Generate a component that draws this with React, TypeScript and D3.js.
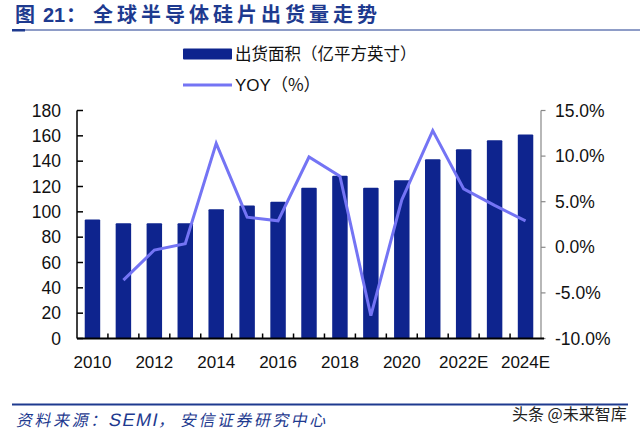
import React from "react";
import * as d3 from "d3";

const categories = ["2010","2011","2012","2013","2014","2015","2016","2017","2018","2019","2020","2021","2022E","2023E","2024E"];
const areaValues = [94, 91, 91, 91, 102, 105, 108, 119, 128.5, 119, 125, 141.5, 149.5, 156.5, 161];
const yoyValues: (number | null)[] = [null, -3.6, -0.3, 0.4, 11.4, 3.3, 2.9, 9.9, 7.8, -7.5, 5.2, 12.8, 6.4, 4.6, 2.9];
const leftTicks = [0, 20, 40, 60, 80, 100, 120, 140, 160, 180];
const rightTicks = [-10, -5, 0, 5, 10, 15];
const xLabelCats = ["2010","2012","2014","2016","2018","2020","2022E","2024E"];

const BAR = "#0E248E";
const LINE = "#7474F4";
const BLUE = "#1E3A8F";
const LAT = "'Liberation Sans', Arial, sans-serif";
const CJK = "'Noto Sans CJK SC', sans-serif";

export default function App() {
  const left = 77, right = 541, top = 110.5, bottom = 338.5;
  const x = d3.scaleBand<string>().domain(categories).range([left, right]).paddingInner(0.5).paddingOuter(0.25);
  const band = d3.scaleBand<string>().domain(categories).range([left, right]);
  const yL = d3.scaleLinear().domain([0, 180]).range([bottom, top]);
  const yR = d3.scaleLinear().domain([-10, 15]).range([bottom, top]);
  const pts = categories.map((c, i) => ({ c, v: yoyValues[i] })).filter(d => d.v !== null) as { c: string; v: number }[];
  const line = d3.line<{ c: string; v: number }>()
    .x(d => (band(d.c) as number) + band.bandwidth() / 2)
    .y(d => yR(d.v));

  return (
    <svg width={640} height={434} style={{ position: "absolute", left: 0, top: 0, background: "#fff" }}>
      {/* title */}
      <g fill={BLUE} fontWeight="bold">
        <text x={15} y={22} fontFamily={CJK} fontSize={20}>图</text>
        <text x={43} y={22} fontFamily={LAT} fontSize={20}>21</text>
        <text x={66} y={22} fontFamily={CJK} fontSize={20}>：</text>
        <text x={93} y={22} fontFamily={CJK} fontSize={20} letterSpacing={4}>全球半导体硅片出货量走势</text>
      </g>
      <line x1={12} x2={640} y1={30} y2={30} stroke={BLUE} strokeWidth={1} />
      <rect x={12} y={29} width={13} height={2.5} fill={BLUE} />

      {/* legend */}
      <rect x={183} y={48.5} width={49} height={11} fill={BAR} rx={1} />
      <text x={235} y={60} fontFamily={CJK} fontSize={16.5} fill="#111">出货面积（亿平方英寸）</text>
      <line x1={183} x2={232} y1={85} y2={85} stroke={LINE} strokeWidth={3} />
      <text x={235} y={91} fontFamily={LAT} fontSize={17} fill="#111">YOY<tspan fontFamily={CJK}>（%）</tspan></text>

      {/* bars */}
      {categories.map((c, i) => (
        <rect key={c} x={x(c)} y={yL(areaValues[i])} width={x.bandwidth()} height={bottom - yL(areaValues[i])} fill={BAR} rx={1} />
      ))}

      {/* line */}
      <path d={line(pts) || ""} fill="none" stroke={LINE} strokeWidth={3} strokeLinejoin="miter" />

      {/* left axis */}
      <line x1={left} x2={left} y1={top} y2={bottom} stroke="#000" strokeWidth={1.5} />
      {leftTicks.map(t => (
        <g key={t}>
          <line x1={left} x2={left + 6} y1={yL(t)} y2={yL(t)} stroke="#000" strokeWidth={1.5} />
          <text x={61} y={yL(t) + 6} textAnchor="end" fontFamily={LAT} fontSize={17.5} fill="#111">{t}</text>
        </g>
      ))}

      {/* right axis */}
      <line x1={right} x2={right} y1={top} y2={bottom} stroke="#888" strokeWidth={1.2} />
      {rightTicks.map(t => (
        <g key={t}>
          <line x1={right} x2={right + 4.5} y1={yR(t)} y2={yR(t)} stroke="#888" strokeWidth={1.2} />
          <text x={555} y={yR(t) + 6} fontFamily={LAT} fontSize={17.5} fill="#111">{t.toFixed(1)}%</text>
        </g>
      ))}

      {/* bottom axis */}
      <line x1={left} x2={right + 3} y1={bottom} y2={bottom} stroke="#000" strokeWidth={1.8} />
      {categories.slice(1).map(c => (
        <line key={c} x1={band(c)} x2={band(c)} y1={bottom} y2={bottom - 5} stroke="#000" strokeWidth={1.5} />
      ))}
      {xLabelCats.map(c => (
        <text key={c} x={(band(c) as number) + band.bandwidth() / 2} y={368} textAnchor="middle" fontFamily={LAT} fontSize={17} fill="#111">{c}</text>
      ))}

      {/* footer */}
      <line x1={12} x2={628} y1={404.5} y2={404.5} stroke={BLUE} strokeWidth={2.2} />
      <g transform="translate(0,426) skewX(-12)" fill={BLUE} fontSize={16}>
        <text x={16} y={0} fontFamily={CJK} letterSpacing={2.6}>资料来源：</text>
        <text x={108} y={0} fontFamily={LAT} fontSize={18} letterSpacing={1.5}>SEMI</text>
        <text x={158} y={0} fontFamily={CJK}>，</text>
        <text x={180} y={0} fontFamily={CJK} letterSpacing={2.5}>安信证券研究中心</text>
      </g>
      <text x={512} y={420} fontFamily={CJK} fontSize={16} fill="#222">头条 @未来智库</text>
    </svg>
  );
}
